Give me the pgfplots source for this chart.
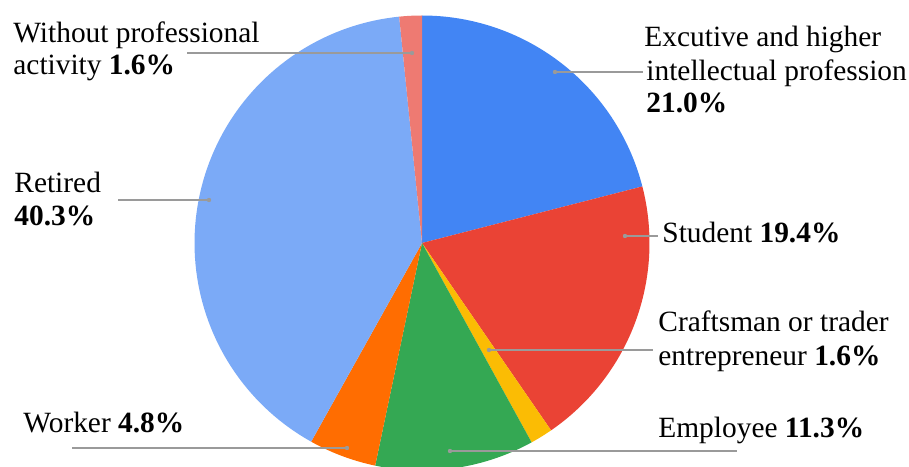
\documentclass[border=0pt]{standalone}
\usepackage{pgfplots}
\pgfplotsset{compat=1.18}
\usepackage{fontspec}
\setmainfont{LiberationSerif}[Extension=.ttf, UprightFont=*-Regular, BoldFont=*-Bold, ItalicFont=*-Italic, BoldItalicFont=*-BoldItalic]
\definecolor{cExec}{HTML}{4285F4}
\definecolor{cStud}{HTML}{EA4335}
\definecolor{cCraft}{HTML}{FBBC04}
\definecolor{cEmpl}{HTML}{34A853}
\definecolor{cWork}{HTML}{FF6D01}
\definecolor{cRet}{HTML}{7BAAF7}
\definecolor{cWith}{HTML}{EE7A72}
\definecolor{lead}{HTML}{9A9A9A}
% slice: #1 cumulative start (%), #2 value (%), #3 colour
\newcommand{\slice}[3]{%
  \addplot[fill=#3, draw=none, domain=90-3.6*(#1+#2):90-3.6*(#1), samples=90]
    ({422+227.5*cos(x)},{223+227.5*sin(x)}) -- (axis cs:422,223) -- cycle;
}
\newcommand{\leader}[3]{% x1 (dot), x2, y (pixel from top)
  \draw[lead, line width=0.6pt] (axis cs:#1,466-#3) -- (axis cs:#2,466-#3);
  \fill[lead] (axis cs:#1,466-#3) circle[radius=1.1pt];
}
\newcommand{\lbl}[3]{% x, baseline y (pixel from top), text
  \node[anchor=base west, inner sep=0pt, font=\rmfamily\fontsize{14.7}{16}\selectfont] at (axis cs:#1,466-#2) {#3};
}
\begin{document}
\begin{tikzpicture}
\begin{axis}[
  scale only axis, width=454.5pt, height=233pt,
  xmin=0, xmax=909, ymin=0, ymax=466,
  hide axis, clip=false,
]
% data: Excutive 21.0, Student 19.4, Craftsman 1.6, Employee 11.3, Worker 4.8, Retired 40.3, Without 1.6
\slice{0}{21.0}{cExec}
\slice{21.0}{19.4}{cStud}
\slice{40.4}{1.6}{cCraft}
\slice{42.0}{11.3}{cEmpl}
\slice{53.3}{4.8}{cWork}
\slice{58.1}{40.3}{cRet}
\slice{98.4}{1.6}{cWith}

\leader{412}{187}{53}
\leader{209}{118}{200}
\leader{555}{643}{72}
\leader{625}{658}{236}
\leader{489}{653}{350}
\leader{450}{737}{451}
\leader{347}{72}{448}

\lbl{13}{43}{Without professional}
\lbl{13}{75}{activity \textbf{1.6\%}}
\lbl{14}{193}{Retired}
\lbl{14}{226}{\textbf{40.3\%}}
\lbl{644}{47}{Excutive and higher}
\lbl{646}{81}{intellectual profession}
\lbl{646}{113}{\textbf{21.0\%}}
\lbl{662}{243}{Student \textbf{19.4\%}}
\lbl{658}{332}{Craftsman or trader}
\lbl{658}{365}{entrepreneur \textbf{1.6\%}}
\lbl{658}{437}{Employee \textbf{11.3\%}}
\lbl{23}{432}{Worker \textbf{4.8\%}}
\end{axis}
\pgfresetboundingbox
\useasboundingbox (0,0) rectangle (454.5pt,233pt);
\end{tikzpicture}
\end{document}
